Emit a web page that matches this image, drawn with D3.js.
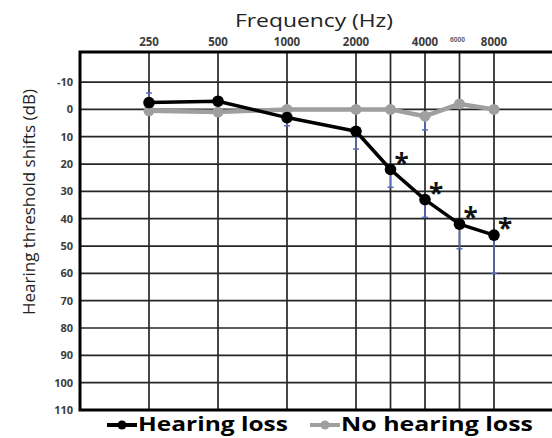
<!DOCTYPE html>
<html>
<head>
<meta charset="utf-8">
<script src="https://cdn.jsdelivr.net/npm/d3@7"></script>
<style>
  html, body { margin: 0; padding: 0; background: #fff; }
  svg { display: block; font-family: "Open Sans", sans-serif; }
</style>
</head>
<body>
<div id="chart"></div>
<script>
// audiogram frequencies (Hz)
const freqs = [250, 500, 1000, 2000, 3000, 4000, 6000, 8000];
// labelled on top (6000 is written small)
const freqLabels = ['250', '500', '1000', '2000', '4000', '8000'];
const dbTicks = [-10, 0, 10, 20, 30, 40, 50, 60, 70, 80, 90, 100, 110];

// mean threshold shift (dB) per frequency
const hearingLoss = [-2.5, -3, 3, 8, 22, 33, 42, 46];
const noHearingLoss = [0.5, 1, 0, 0, 0, 2.5, -2, 0];
// end of the one-sided error bar, null = no bar drawn
const hearingLossErr = [-6, null, 6, 14.5, 28.5, 39.5, 51, 60];
const noHearingLossErr = [null, null, null, null, null, 7.5, null, null];
// frequencies marked as significant
const significant = [3000, 4000, 6000, 8000];

const width = 552, height = 438;

const svg = d3.select('#chart')
    .append('svg')
    .attr('width', width)
    .attr('height', height);

// half-octave positions, like a normal audiogram
const octave = f => Math.round(2 * Math.log2(f / 250)) / 2;

const x = d3.scaleLinear().domain([-1, 5]).range([80, 494]);
const y = d3.scaleLinear().domain([-21, 110]).range([52, 410]);

const plotTop = y(-21), plotBottom = y(110), plotLeft = x(-1), plotRight = width + 10;

// grid
const grid = svg.append('g').attr('stroke', '#262626').attr('stroke-width', 1.7);
grid.selectAll('line.h')
    .data(dbTicks.slice(0, -1))
    .enter().append('line')
    .attr('x1', plotLeft).attr('x2', plotRight)
    .attr('y1', d => y(d)).attr('y2', d => y(d));
grid.selectAll('line.v')
    .data(freqs)
    .enter().append('line')
    .attr('x1', d => x(octave(d))).attr('x2', d => x(octave(d)))
    .attr('y1', plotTop).attr('y2', plotBottom);

// frame: top, left and bottom are heavier
svg.append('path')
    .attr('d', `M${plotRight},${plotTop}H${plotLeft}V${plotBottom}H${plotRight}`)
    .attr('fill', 'none')
    .attr('stroke', '#000')
    .attr('stroke-width', 3);

// y tick labels
svg.append('g')
    .selectAll('text')
    .data(dbTicks)
    .enter().append('text')
    .attr('x', 73)
    .attr('y', d => y(d))
    .attr('dy', '0.35em')
    .attr('text-anchor', 'end')
    .attr('font-size', 11)
    .attr('font-weight', 'bold')
    .attr('fill', '#3c3c3c')
    .text(d => d);

// x tick labels along the top
svg.append('g')
    .selectAll('text')
    .data(freqLabels)
    .enter().append('text')
    .attr('x', d => x(octave(+d)))
    .attr('y', 46)
    .attr('text-anchor', 'middle')
    .attr('font-size', 11.5)
    .attr('font-weight', 'bold')
    .attr('fill', '#3c3c3c')
    .text(d => d);

svg.append('text')
    .attr('x', x(octave(6000)) - 2)
    .attr('y', 42)
    .attr('text-anchor', 'middle')
    .attr('font-size', 6.5)
    .attr('font-weight', 'bold')
    .attr('fill', '#666')
    .text('6000');

// axis titles
svg.append('text')
    .attr('x', 314)
    .attr('y', 27)
    .attr('text-anchor', 'middle')
    .attr('font-size', 18)
    .attr('fill', '#222')
    .attr('textLength', 158)
    .attr('lengthAdjust', 'spacingAndGlyphs')
    .text('Frequency (Hz)');

svg.append('text')
    .attr('transform', 'translate(35,202) rotate(-90)')
    .attr('text-anchor', 'middle')
    .attr('font-size', 17)
    .attr('fill', '#222')
    .attr('textLength', 226)
    .attr('lengthAdjust', 'spacingAndGlyphs')
    .text('Hearing threshold shifts (dB)');

// error bars
function errorBars(values, ends) {
    const data = freqs.map((f, i) => ({ f, v: values[i], e: ends[i] })).filter(d => d.e != null);
    const g = svg.append('g').attr('stroke', '#5b6cc0').attr('stroke-width', 1.5);
    g.selectAll('line.bar')
        .data(data).enter().append('line')
        .attr('x1', d => x(octave(d.f))).attr('x2', d => x(octave(d.f)))
        .attr('y1', d => y(d.v)).attr('y2', d => y(d.e));
    g.selectAll('line.cap')
        .data(data).enter().append('line')
        .attr('x1', d => x(octave(d.f)) - 3).attr('x2', d => x(octave(d.f)) + 3)
        .attr('y1', d => y(d.e)).attr('y2', d => y(d.e));
}
errorBars(hearingLoss, hearingLossErr);
errorBars(noHearingLoss, noHearingLossErr);

// series
const line = d3.line()
    .x(d => x(octave(d[0])))
    .y(d => y(d[1]));

function drawSeries(values, color, lw, r) {
    const pts = freqs.map((f, i) => [f, values[i]]);
    svg.append('path')
        .datum(pts)
        .attr('d', line)
        .attr('fill', 'none')
        .attr('stroke', color)
        .attr('stroke-width', lw)
        .attr('stroke-linejoin', 'round');
    svg.append('g')
        .selectAll('circle')
        .data(pts)
        .enter().append('circle')
        .attr('cx', d => x(octave(d[0])))
        .attr('cy', d => y(d[1]))
        .attr('r', r)
        .attr('fill', color);
}
drawSeries(noHearingLoss, '#9f9f9f', 4.5, 5.5);
drawSeries(hearingLoss, '#000', 3.5, 5.8);

// asterisks
svg.append('g')
    .selectAll('text')
    .data(significant)
    .enter().append('text')
    .attr('x', f => x(octave(f)) + 11)
    .attr('y', f => y(hearingLoss[freqs.indexOf(f)]) + 3)
    .attr('text-anchor', 'middle')
    .attr('font-size', 26)
    .attr('font-weight', 'bold')
    .attr('fill', '#111')
    .text('*');

// legend
const legend = [
    { name: 'Hearing loss', color: '#000', x0: 107, x1: 137, tx: 138, tw: 150 },
    { name: 'No hearing loss', color: '#9f9f9f', x0: 310, x1: 340, tx: 341, tw: 192 }
];
const lg = svg.append('g').selectAll('g').data(legend).enter().append('g');
lg.append('line')
    .attr('x1', d => d.x0).attr('x2', d => d.x1)
    .attr('y1', 425).attr('y2', 425)
    .attr('stroke', d => d.color)
    .attr('stroke-width', 4);
lg.append('circle')
    .attr('cx', d => (d.x0 + d.x1) / 2)
    .attr('cy', 425)
    .attr('r', 4.5)
    .attr('fill', d => d.color);
lg.append('text')
    .attr('x', d => d.tx)
    .attr('y', 431)
    .attr('font-size', 19)
    .attr('font-weight', 'bold')
    .attr('fill', '#000')
    .attr('textLength', d => d.tw)
    .attr('lengthAdjust', 'spacingAndGlyphs')
    .text(d => d.name);
</script>
</body>
</html>
